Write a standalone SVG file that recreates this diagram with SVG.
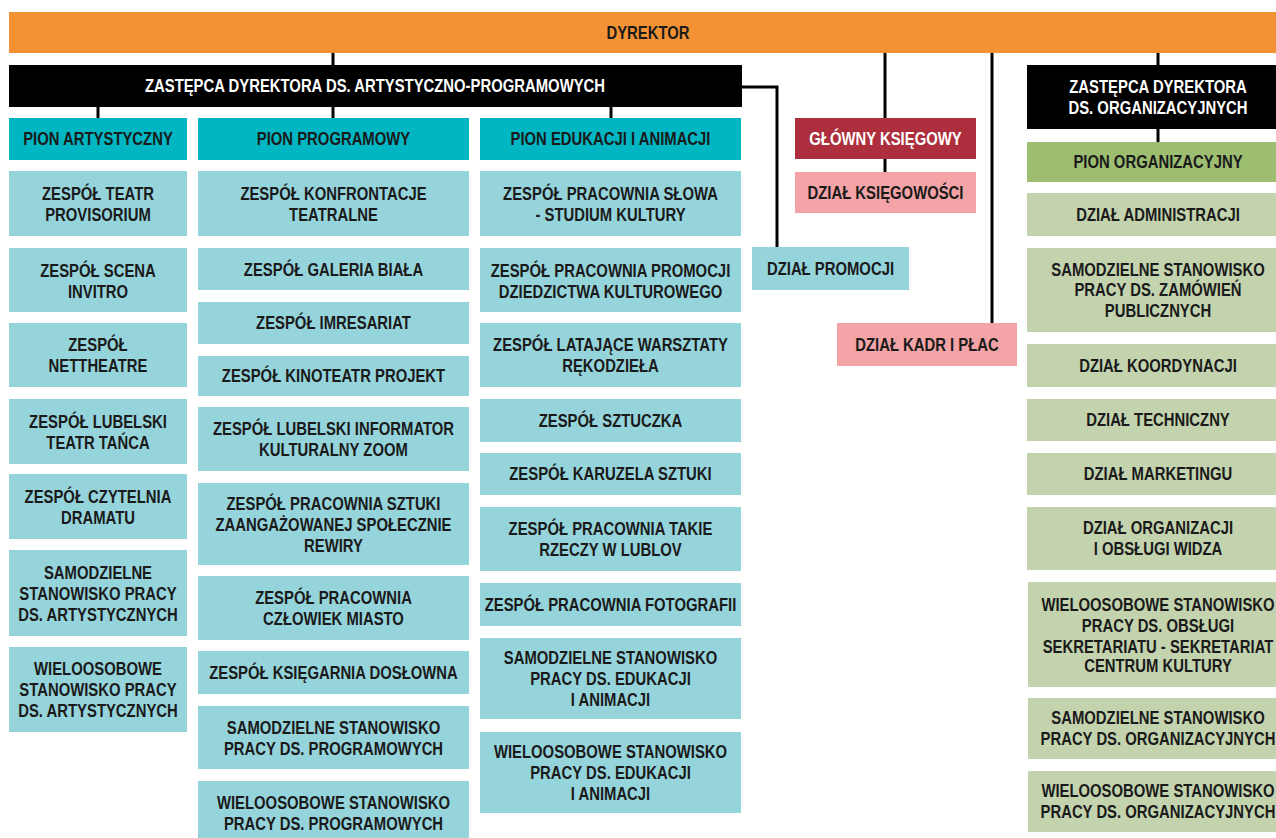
<svg xmlns="http://www.w3.org/2000/svg" width="1276" height="838" viewBox="0 0 1276 838">
<style>
text{font-family:"Liberation Sans",Arial,sans-serif;font-weight:bold;font-size:18px;fill:#1a1a1a;text-anchor:middle;transform-box:fill-box;transform-origin:center;transform:scaleX(0.825)}
.w{fill:#fff}
.or{fill:#F39234}
.bk{fill:#000}
.tl{fill:#00B6C3}
.lt{fill:#96D4DC}
.rd{fill:#AD2F3D}
.pk{fill:#F4A3A6}
.gn{fill:#9DBD71}
.lg{fill:#C3D3AE}
.c{stroke:#000;stroke-width:3;fill:none}
</style>
<g id="connectors">
<path class="c" d="M333 53V65M98 107V118M333 107V118M611 107V118M742 87H777V247M885 53V118M885 159V172M992 53V323M1158 53V65M1158 129V142"/>
</g>
<g id="dyrektor"><rect class="or" x="9" y="12" width="1272" height="41"/><text x="648" y="39.5">DYREKTOR</text></g>
<g id="zastepca-art"><rect class="bk" x="9" y="65" width="733" height="42"/><text class="w" x="375" y="92.5">ZASTĘPCA DYREKTORA DS. ARTYSTYCZNO-PROGRAMOWYCH</text></g>
<g id="pion-art"><rect class="tl" x="9" y="118" width="178" height="42"/><text x="98" y="145.5">PION ARTYSTYCZNY</text></g>
<g id="pion-prog"><rect class="tl" x="198" y="118" width="271" height="42"/><text x="333.5" y="145.5">PION PROGRAMOWY</text></g>
<g id="pion-edu"><rect class="tl" x="480" y="118" width="261" height="42"/><text x="610.5" y="145.5">PION EDUKACJI I ANIMACJI</text></g>

<g id="a1"><rect class="lt" x="9" y="171" width="178" height="65"/><text x="98" y="200">ZESPÓŁ TEATR</text><text x="98" y="221">PROVISORIUM</text></g>
<g id="a2"><rect class="lt" x="9" y="248" width="178" height="64"/><text x="98" y="277">ZESPÓŁ SCENA</text><text x="98" y="298">INVITRO</text></g>
<g id="a3"><rect class="lt" x="9" y="323" width="178" height="64"/><text x="98" y="351.5">ZESPÓŁ</text><text x="98" y="372.5">NETTHEATRE</text></g>
<g id="a4"><rect class="lt" x="9" y="399" width="178" height="65"/><text x="98" y="428">ZESPÓŁ LUBELSKI</text><text x="98" y="449">TEATR TAŃCA</text></g>
<g id="a5"><rect class="lt" x="9" y="474" width="178" height="65"/><text x="98" y="503">ZESPÓŁ CZYTELNIA</text><text x="98" y="524">DRAMATU</text></g>
<g id="a6"><rect class="lt" x="9" y="550" width="178" height="86"/><text x="98" y="579">SAMODZIELNE</text><text x="98" y="600">STANOWISKO PRACY</text><text x="98" y="621">DS. ARTYSTYCZNYCH</text></g>
<g id="a7"><rect class="lt" x="9" y="647" width="178" height="85"/><text x="98" y="675.5">WIELOOSOBOWE</text><text x="98" y="696.5">STANOWISKO PRACY</text><text x="98" y="717.5">DS. ARTYSTYCZNYCH</text></g>

<g id="p1"><rect class="lt" x="198" y="171" width="271" height="65"/><text x="333.5" y="200">ZESPÓŁ KONFRONTACJE</text><text x="333.5" y="221">TEATRALNE</text></g>
<g id="p2"><rect class="lt" x="198" y="248" width="271" height="42"/><text x="333.5" y="275.5">ZESPÓŁ GALERIA BIAŁA</text></g>
<g id="p3"><rect class="lt" x="198" y="302" width="271" height="42"/><text x="333.5" y="329.5">ZESPÓŁ IMRESARIAT</text></g>
<g id="p4"><rect class="lt" x="198" y="356" width="271" height="40"/><text x="333.5" y="382.5">ZESPÓŁ KINOTEATR PROJEKT</text></g>
<g id="p5"><rect class="lt" x="198" y="407" width="271" height="64"/><text x="333.5" y="435.5">ZESPÓŁ LUBELSKI INFORMATOR</text><text x="333.5" y="456.5">KULTURALNY ZOOM</text></g>
<g id="p6"><rect class="lt" x="198" y="483" width="271" height="82"/><text x="333.5" y="510">ZESPÓŁ PRACOWNIA SZTUKI</text><text x="333.5" y="531">ZAANGAŻOWANEJ SPOŁECZNIE</text><text x="333.5" y="552">REWIRY</text></g>
<g id="p7"><rect class="lt" x="198" y="576" width="271" height="64"/><text x="333.5" y="604.5">ZESPÓŁ PRACOWNIA</text><text x="333.5" y="625.5">CZŁOWIEK MIASTO</text></g>
<g id="p8"><rect class="lt" x="198" y="651" width="271" height="43"/><text x="333.5" y="679">ZESPÓŁ KSIĘGARNIA DOSŁOWNA</text></g>
<g id="p9"><rect class="lt" x="198" y="706" width="271" height="63"/><text x="333.5" y="734">SAMODZIELNE STANOWISKO</text><text x="333.5" y="755">PRACY DS. PROGRAMOWYCH</text></g>
<g id="p10"><rect class="lt" x="198" y="781" width="271" height="70"/><text x="333.5" y="809">WIELOOSOBOWE STANOWISKO</text><text x="333.5" y="830">PRACY DS. PROGRAMOWYCH</text></g>

<g id="e1"><rect class="lt" x="480" y="171" width="261" height="65"/><text x="610.5" y="200">ZESPÓŁ PRACOWNIA SŁOWA</text><text x="610.5" y="221">- STUDIUM KULTURY</text></g>
<g id="e2"><rect class="lt" x="480" y="248" width="261" height="64"/><text x="610.5" y="277">ZESPÓŁ PRACOWNIA PROMOCJI</text><text x="610.5" y="298">DZIEDZICTWA KULTUROWEGO</text></g>
<g id="e3"><rect class="lt" x="480" y="323" width="261" height="64"/><text x="610.5" y="351.5">ZESPÓŁ LATAJĄCE WARSZTATY</text><text x="610.5" y="372.5">RĘKODZIEŁA</text></g>
<g id="e4"><rect class="lt" x="480" y="399" width="261" height="43"/><text x="610.5" y="427">ZESPÓŁ SZTUCZKA</text></g>
<g id="e5"><rect class="lt" x="480" y="453" width="261" height="42"/><text x="610.5" y="480.5">ZESPÓŁ KARUZELA SZTUKI</text></g>
<g id="e6"><rect class="lt" x="480" y="507" width="261" height="64"/><text x="610.5" y="535.5">ZESPÓŁ PRACOWNIA TAKIE</text><text x="610.5" y="556.5">RZECZY W LUBLOV</text></g>
<g id="e7"><rect class="lt" x="480" y="583" width="261" height="43"/><text x="610.5" y="611">ZESPÓŁ PRACOWNIA FOTOGRAFII</text></g>
<g id="e8"><rect class="lt" x="480" y="638" width="261" height="81"/><text x="610.5" y="664.5">SAMODZIELNE STANOWISKO</text><text x="610.5" y="685.5">PRACY DS. EDUKACJI</text><text x="610.5" y="706.5">I ANIMACJI</text></g>
<g id="e9"><rect class="lt" x="480" y="732" width="261" height="81"/><text x="610.5" y="758.5">WIELOOSOBOWE STANOWISKO</text><text x="610.5" y="779.5">PRACY DS. EDUKACJI</text><text x="610.5" y="800.5">I ANIMACJI</text></g>

<g id="promocja"><rect class="lt" x="752" y="247" width="157" height="43"/><text x="830.5" y="275">DZIAŁ PROMOCJI</text></g>
<g id="ksiegowy"><rect class="rd" x="795" y="118" width="181" height="41"/><text class="w" x="885.5" y="145">GŁÓWNY KSIĘGOWY</text></g>
<g id="ksiegowosc"><rect class="pk" x="795" y="172" width="181" height="41"/><text x="885.5" y="199">DZIAŁ KSIĘGOWOŚCI</text></g>
<g id="kadry"><rect class="pk" x="837" y="323" width="180" height="43"/><text x="927" y="351">DZIAŁ KADR I PŁAC</text></g>

<g id="zastepca-org"><rect class="bk" x="1027" y="65" width="254" height="64"/><text class="w" x="1158" y="93">ZASTĘPCA DYREKTORA</text><text class="w" x="1158" y="114">DS. ORGANIZACYJNYCH</text></g>
<g id="pion-org"><rect class="gn" x="1027" y="142" width="254" height="40"/><text x="1158" y="168.5">PION ORGANIZACYJNY</text></g>
<g id="o1"><rect class="lg" x="1027" y="193" width="254" height="43"/><text x="1158" y="221">DZIAŁ ADMINISTRACJI</text></g>
<g id="o2"><rect class="lg" x="1027" y="248" width="254" height="84"/><text x="1158" y="275.5">SAMODZIELNE STANOWISKO</text><text x="1158" y="296.5">PRACY DS. ZAMÓWIEŃ</text><text x="1158" y="317.5">PUBLICZNYCH</text></g>
<g id="o3"><rect class="lg" x="1027" y="344" width="254" height="43"/><text x="1158" y="372">DZIAŁ KOORDYNACJI</text></g>
<g id="o4"><rect class="lg" x="1027" y="399" width="254" height="42"/><text x="1158" y="426.5">DZIAŁ TECHNICZNY</text></g>
<g id="o5"><rect class="lg" x="1027" y="453" width="254" height="42"/><text x="1158" y="480.5">DZIAŁ MARKETINGU</text></g>
<g id="o6"><rect class="lg" x="1027" y="507" width="254" height="63"/><text x="1158" y="534.5">DZIAŁ ORGANIZACJI</text><text x="1158" y="555.5">I OBSŁUGI WIDZA</text></g>
<g id="o7"><rect class="lg" x="1028" y="582" width="253" height="105"/><text x="1158" y="611">WIELOOSOBOWE STANOWISKO</text><text x="1158" y="632">PRACY DS. OBSŁUGI</text><text x="1158" y="653">SEKRETARIATU - SEKRETARIAT</text><text x="1158" y="672">CENTRUM KULTURY</text></g>
<g id="o8"><rect class="lg" x="1028" y="698" width="253" height="61"/><text x="1158" y="724.5">SAMODZIELNE STANOWISKO</text><text x="1158" y="745.5">PRACY DS. ORGANIZACYJNYCH</text></g>
<g id="o9"><rect class="lg" x="1028" y="771" width="253" height="61"/><text x="1158" y="797.5">WIELOOSOBOWE STANOWISKO</text><text x="1158" y="818.5">PRACY DS. ORGANIZACYJNYCH</text></g>
</svg>
